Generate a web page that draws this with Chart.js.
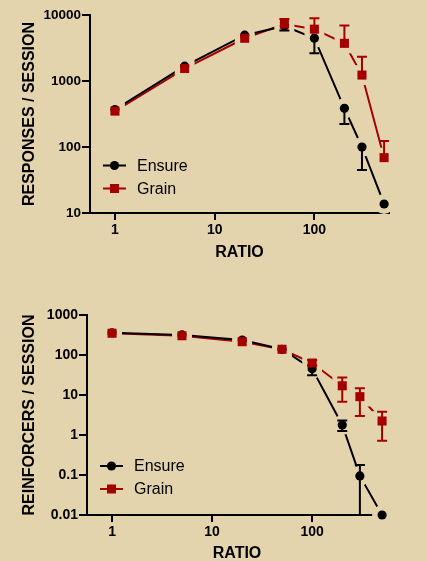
<!DOCTYPE html>
<html>
<head>
<meta charset="utf-8">
<script src="https://cdn.jsdelivr.net/npm/chart.js@4"></script>
<style>
  body { margin: 0; background: #E4D4AE; }
  canvas { position: absolute; left: 0; }
  #top { top: 0; }
  #bottom { top: 280px; }
</style>
</head>
<body>
<canvas id="top" width="427" height="280"></canvas>
<canvas id="bottom" width="427" height="281"></canvas>
<script>
const ratios = [1, 5, 20, 50, 100, 200, 300, 500];

// responses / session
const respEnsure     = [370, 1675, 4950, 6800, 4450, 385, 100, 13.7];
const respEnsureLow  = [null, null, null, 5800, 2630, 224, 45, null];
const respGrain      = [350, 1545, 4440, 7300, 6100, 3720, 1230, 69];
const respGrainHigh  = [null, null, null, 8700, 8900, 6950, 2340, 123];

// reinforcers / session
const reinfEnsure     = [360, 318, 237, 139, 45, 1.78, 0.095, 0.01];
const reinfEnsureLow  = [null, null, null, null, 31, 1.25, 0.01, null];
const reinfEnsureHigh = [null, null, null, null, 55, 2.3, 0.178, null];
const reinfGrain      = [350, 303, 215, 139, 63, 17, 9.1, 2.24];
const reinfGrainLow   = [null, null, null, null, 55, 6.8, 3.0, 0.72];
const reinfGrainHigh  = [null, null, null, null, 75, 27.5, 14.8, 3.8];

const xTicks = [1, 10, 100];
const xTickLabels = ['1', '10', '100'];
const respTicks = [10, 100, 1000, 10000];
const respTickLabels = ['10', '100', '1000', '10000'];
const reinfTicks = [0.01, 0.1, 1, 10, 100, 1000];
const reinfTickLabels = ['0.01', '0.1', '1', '10', '100', '1000'];

const BG = '#E4D4AE';
const BLACK = '#000000';
const RED = '#A50000';
const FONT = "'Liberation Sans', Arial, sans-serif";

// error bars go on right after their marker dataset
const errorBars = {
  id: 'errorBars',
  afterDatasetDraw(chart, args) {
    const ds = chart.data.datasets[args.index];
    if (ds.role !== 'marker') return;
    const { ctx, scales: { x, y } } = chart;
    ctx.save();
    ctx.strokeStyle = ds.borderColor;
    ctx.lineWidth = 2;
    [ds.errLow, ds.errHigh].forEach(ends => {
      if (!ends) return;
      ends.forEach((end, i) => {
        if (end == null) return;
        const px = x.getPixelForValue(ratios[i]);
        const py = y.getPixelForValue(ds.data[i].y);
        const pe = y.getPixelForValue(end);
        ctx.beginPath();
        ctx.moveTo(px, py);
        ctx.lineTo(px, pe);
        ctx.moveTo(px - 5, pe);
        ctx.lineTo(px + 5, pe);
        ctx.stroke();
      });
    });
    ctx.restore();
  }
};

const boxLegend = {
  id: 'boxLegend',
  afterDraw(chart, args, opts) {
    const ctx = chart.ctx;
    ctx.save();
    chart.data.datasets.filter(ds => ds.role === 'marker').forEach((ds, i) => {
      const y = opts.y + i * opts.dy;
      const cx = opts.x + 11.5;
      ctx.strokeStyle = ds.borderColor;
      ctx.fillStyle = ds.borderColor;
      ctx.lineWidth = 2;
      ctx.beginPath();
      ctx.moveTo(opts.x, y);
      ctx.lineTo(opts.x + 23, y);
      ctx.stroke();
      if (ds.pointStyle === 'rect') {
        ctx.fillRect(cx - 4.5, y - 4.5, 9, 9);
      } else {
        ctx.beginPath();
        ctx.arc(cx, y, 4.6, 0, Math.PI * 2);
        ctx.fill();
      }
      ctx.fillStyle = BLACK;
      ctx.font = '16px ' + FONT;
      ctx.textBaseline = 'middle';
      ctx.fillText(ds.label, opts.x + 34, y + 1);
    });
    ctx.restore();
  }
};

// one series = connecting line, a background-coloured halo that opens the
// gap around each point, and the markers themselves
function series(label, values, color, style, low, high, markerOrder) {
  const data = ratios.map((r, i) => ({ x: r, y: values[i] }));
  const square = style === 'rect';
  return [
    {
      label: label, role: 'line', data: data,
      borderColor: color, borderWidth: 2, pointRadius: 0, pointHoverRadius: 0,
      tension: 0, clip: false, order: 10
    },
    {
      label: label, role: 'halo', data: data, showLine: false,
      pointStyle: style, pointRadius: square ? 14 : 10, pointHoverRadius: square ? 14 : 10,
      pointBackgroundColor: BG, pointBorderWidth: 0, clip: false, order: 5
    },
    {
      label: label, role: 'marker', data: data, showLine: false,
      borderColor: color, backgroundColor: color,
      pointStyle: style, pointRadius: square ? 6.4 : 4.6, pointHoverRadius: square ? 6.4 : 4.6,
      pointBackgroundColor: color, pointBorderWidth: 0, clip: false, order: markerOrder,
      errLow: low, errHigh: high
    }
  ];
}

function logAxis(min, max, ticks, labels, title, fit, titlePad, tickSize) {
  return {
    type: 'logarithmic',
    min: min,
    max: max,
    z: 1,
    afterBuildTicks: scale => { scale.ticks = ticks.map(v => ({ value: v })); },
    afterFit: fit,
    ticks: {
      color: BLACK,
      font: { family: FONT, size: tickSize, weight: 'bold' },
      padding: 1,
      maxRotation: 0,
      autoSkip: false,
      callback: (v, i) => labels[i]
    },
    grid: { display: true, drawOnChartArea: false, drawTicks: true, tickLength: 8, color: BLACK, lineWidth: 2 },
    border: { display: true, color: BLACK, width: 2 },
    title: {
      display: true,
      text: title,
      color: BLACK,
      font: { family: FONT, size: 16, weight: 'bold' },
      padding: titlePad
    }
  };
}

function makeChart(id, datasets, yMin, yMax, yTicks, yLabels, yTitle, cfg) {
  const xAxis = logAxis(0.562, 560, xTicks, xTickLabels, 'RATIO',
    s => { s.height = cfg.xHeight; }, { top: 0, bottom: cfg.xTitlePad }, 14);
  xAxis.grid.tickLength = 7;
  xAxis.ticks.padding = 2;
  const yAxis = logAxis(yMin, yMax, yTicks, yLabels, yTitle,
    s => { s.width = cfg.yWidth; }, { top: cfg.yTitlePad, bottom: 0 }, cfg.yTickSize);

  new Chart(document.getElementById(id), {
    type: 'line',
    data: { datasets: datasets },
    options: {
      responsive: false,
      animation: false,
      layout: { padding: { left: 0, right: cfg.right, top: cfg.top, bottom: 0 } },
      scales: { x: xAxis, y: yAxis },
      plugins: {
        legend: { display: false },
        tooltip: { enabled: false },
        boxLegend: cfg.legend
      }
    },
    plugins: [errorBars, boxLegend]
  });
}

makeChart('top', [
  ...series('Ensure', respEnsure, BLACK, 'circle', respEnsureLow, null, 2),
  ...series('Grain', respGrain, RED, 'rect', null, respGrainHigh, 1)
], 10, 10000, respTicks, respTickLabels, 'RESPONSES / SESSION',
  { xHeight: 67, yWidth: 90, right: 38, top: 15, xTitlePad: 18, yTitlePad: 20, yTickSize: 13.5,
    legend: { x: 103, y: 165.5, dy: 23 } });

makeChart('bottom', [
  ...series('Ensure', reinfEnsure, BLACK, 'circle', reinfEnsureLow, reinfEnsureHigh, 2),
  ...series('Grain', reinfGrain, RED, 'rect', reinfGrainLow, reinfGrainHigh, 1)
], 0.01, 1000, reinfTicks, reinfTickLabels, 'REINFORCERS / SESSION',
  { xHeight: 46, yWidth: 87, right: 40, top: 35, xTitlePad: -2, yTitlePad: 20, yTickSize: 14,
    legend: { x: 100, y: 186, dy: 23 } });
</script>
</body>
</html>
